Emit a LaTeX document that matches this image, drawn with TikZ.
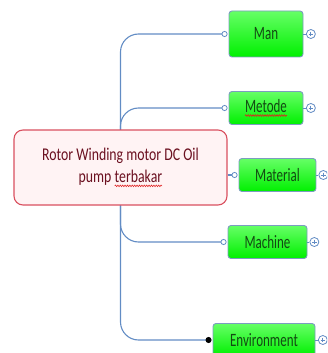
\documentclass[tikz,border=0pt]{standalone}
\usepackage{fontspec}
\setmainfont{Carlito}
\usepackage{graphicx}
\usetikzlibrary{positioning, arrows.meta, backgrounds, decorations.pathmorphing}

\definecolor{linkblue}{HTML}{628CC4}
\definecolor{boxedge}{HTML}{7C9CC0}
\definecolor{boxgreen}{HTML}{00F000}
\definecolor{boxlight}{HTML}{66FF66}
\definecolor{boxtext}{HTML}{134A13}
\definecolor{rootred}{HTML}{D9505F}
\definecolor{rootpink}{HTML}{FFF3F4}
\definecolor{roottext}{HTML}{6B1020}
\definecolor{spellred}{HTML}{E02020}

% red wavy underline under a word
\newcommand\redwave[1]{\tikz[baseline=(w.base)]{%
    \node [inner sep=0pt, outer sep=0pt, minimum size=0pt, rectangle] (w) {#1};
    \draw [spellred, line width=0.5pt, sharp corners, decorate,
           decoration={snake, amplitude=0.6pt, segment length=2.4pt}]
          ([yshift=-2.2pt]w.base west) -- ([yshift=-2.2pt]w.base east);}}
% tall, narrow lettering
\newcommand\tall[2][1.45]{\scalebox{1}[#1]{#2}}

\begin{document}
\begin{tikzpicture}[
    x=1pt, y=-1pt,
    root/.style={rectangle, rounded corners=9pt, draw=rootred, line width=1.1pt,
                 fill=rootpink, text=roottext, minimum width=213pt, minimum height=75pt,
                 align=center, font=\fontsize{13.8}{22.5}\selectfont},
    cause/.style={rectangle, rounded corners=3pt, draw=boxedge, line width=0.9pt,
                  top color=boxlight, bottom color=boxgreen, text=boxtext,
                  minimum height=33pt, font=\fontsize{13}{15}\selectfont},
    branch/.style={draw=linkblue, line width=1.1pt, rounded corners=18pt},
    stub/.style={draw=linkblue, line width=0.8pt},
    expander/.style={circle, draw=linkblue, fill=white, line width=0.8pt,
                     minimum size=9pt, inner sep=0pt,
                     path picture={\draw[line width=0.9pt]
                        (path picture bounding box.west) ++(2.2pt,0pt) -- ++(4.6pt,0pt)
                        (path picture bounding box.north) ++(0pt,-2.2pt) -- ++(0pt,-4.6pt);}},
    knob/.tip={Circle[open, fill=white, length=6pt, line width=0.8pt]}
]
    \useasboundingbox (0,0) rectangle (327,353);
    \clip (0,0) rectangle (327,353);

    \node [root] (root) at (120.5,167.5)
          {\tall[1.3]{Rotor Winding motor DC Oil}\\\tall[1.3]{pump \redwave{terbakar}}};

    \node [cause, minimum width=74pt, minimum height=46pt] (man) at (266,34) {\tall{Man}};
    \node [cause, minimum width=74pt] (metode) at (266,108) {\tall{\redwave{Metode}}};
    \node [cause, minimum width=77pt] (material) at (277.5,175) {\tall{Material}};
    \node [cause, minimum width=79pt] (machine) at (267.5,242) {\tall{Machine}};
    \node [cause, minimum width=102pt] (env) at (264,340) {\tall{Environment}};

    \node [expander, right=2.5pt of man] (manx) {};
    \node [expander, right=2.5pt of metode] (metodex) {};
    \node [expander, right=2pt of material] (materialx) {};
    \node [expander, right=2pt of machine] (machinex) {};
    \node [expander, right=2.5pt of env] (envx) {};

    \begin{scope}[on background layer]
        \draw [branch, -knob, shorten >=1pt] (root.center) |- (man.west);
        \draw [branch, -knob, shorten >=1pt] (root.center) |- (metode.west);
        \draw [branch, -knob, shorten >=1pt] (root.east |- material.west) -- (material.west);
        \draw [branch, -knob, shorten >=1pt] (root.center) |- (machine.west);
        \draw [branch, -{Circle[color=black, length=6pt]}, shorten >=1pt] (root.center) |- (env.west);
    \end{scope}

    \draw [stub] (man) -- (manx);
    \draw [stub] (metode) -- (metodex);
    \draw [stub] (material) -- (materialx);
    \draw [stub] (machine) -- (machinex);
    \draw [stub] (env) -- (envx);
\end{tikzpicture}
\end{document}
